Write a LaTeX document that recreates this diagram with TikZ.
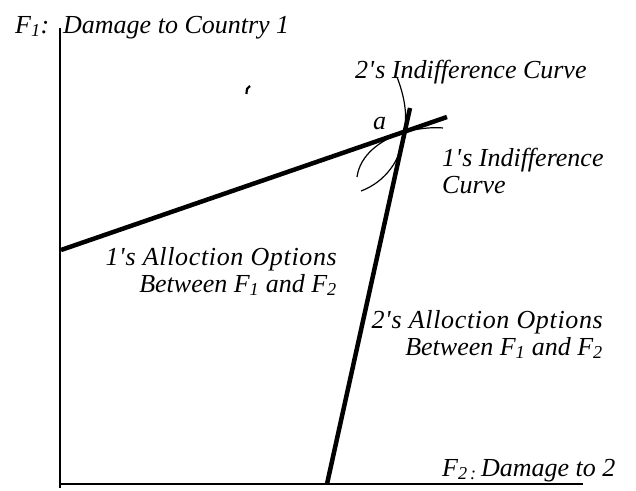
\documentclass[tikz,border=0pt]{standalone}
\usepackage{fontspec}
\setmainfont{Liberation Serif}[Ligatures=NoCommon]
\newcommand{\ap}{\kern0.5pt\textquotesingle\kern1pt}
\begin{document}
\begin{tikzpicture}[x=1pt,y=-1pt,
  lbl/.style={inner sep=0pt,font=\fontsize{26}{30}\selectfont\itshape},
  wide/.style={lbl,font=\fontsize{26}{30}\selectfont\itshape\addfontfeatures{LetterSpace=2.5}},
  axisline/.style={line width=2pt},
  optline/.style={line width=4.5pt},
  indiff/.style={line width=1.2pt}]
\useasboundingbox (0,0) rectangle (636,490);
% axes
\coordinate (otop) at (60,28);
\coordinate (orig) at (60,488);
\coordinate (xstart) at (59,484);
\coordinate (xend) at (583,484);
\draw[axisline] (otop) -- (orig);
\draw[axisline] (xstart) -- (xend);
% option lines
\coordinate (l1a) at (61,250);
\coordinate (l1b) at (447,117);
\coordinate (l2a) at (327,484);
\coordinate (l2b) at (410,108);
\draw[optline] (l1a) -- (l1b);
\draw[optline] (l2a) -- (l2b);
% indifference curves
\coordinate (ip) at (404,132);
\draw[indiff] (397,77) .. controls (404,95) and (408,115) .. (ip)
  .. controls (402,160) and (385,182) .. (361,191);
\draw[indiff] (357,177) .. controls (360,155) and (380,140) .. (ip)
  .. controls (420,128) and (435,127) .. (443,128);
% small mark
\draw[line width=2.2pt] (246.5,94) .. controls (246.5,89) and (247.5,87) .. (250,86);
% labels
\node[lbl,anchor=base west] (t1) at (15,33) {F\textsubscript{\itshape 1}:};
\node[lbl,anchor=base west] (t1b) at (63,33) {Damage to Country 1};
\node[lbl,anchor=base west] (t2) at (355,78) {2\ap s Indifference Curve};
\node[lbl,anchor=base west] (ta) at (373,129) {a};
\node[lbl,anchor=base west] (t3) at (442,166) {1\ap s Indifference};
\node[lbl,anchor=base west] (t3b) at (442,193) {Curve};
\node[wide,anchor=base east] (t4) at (337,265) {1\ap s Alloction Options};
\node[lbl,anchor=base east] (t4b) at (337,292) {Between F\textsubscript{\itshape 1} and F\textsubscript{\itshape 2}};
\node[wide,anchor=base east] (t5) at (603,328) {2\ap s Alloction Options};
\node[lbl,anchor=base east] (t5b) at (603,355) {Between F\textsubscript{\itshape 1} and F\textsubscript{\itshape 2}};
\node[lbl,anchor=base west] (t6) at (442,476) {F\textsubscript{\itshape 2\,:}\,Damage to 2};
\end{tikzpicture}
\end{document}
